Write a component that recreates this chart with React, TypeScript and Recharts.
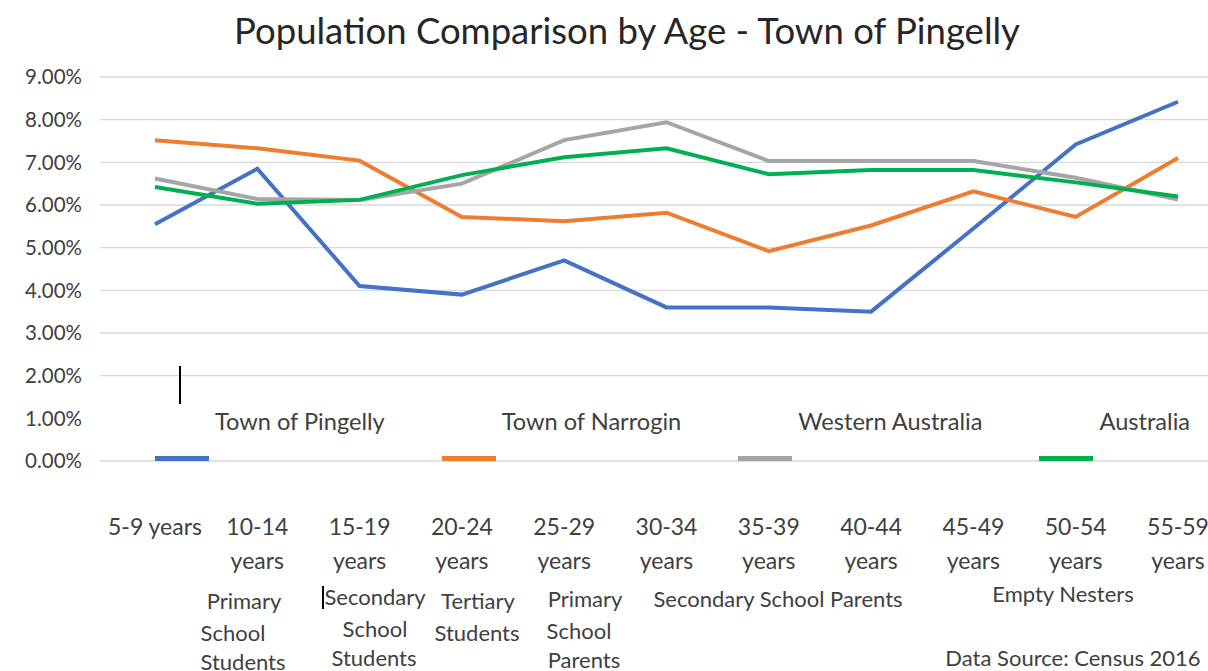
import React from 'react'
import { LineChart, Line, XAxis, YAxis, CartesianGrid, Legend } from 'recharts'

// age groups on the x axis
const ageGroups = [
  '5-9 years',
  '10-14 years',
  '15-19 years',
  '20-24 years',
  '25-29 years',
  '30-34 years',
  '35-39 years',
  '40-44 years',
  '45-49 years',
  '50-54 years',
  '55-59 years',
]

// share of population, in percent
const pingelly = [5.55, 6.85, 4.1, 3.9, 4.7, 3.6, 3.6, 3.5, 5.45, 7.42, 8.42]
const narrogin = [7.52, 7.33, 7.04, 5.72, 5.62, 5.82, 4.92, 5.52, 6.32, 5.72, 7.1]
const westernAustralia = [6.62, 6.14, 6.12, 6.5, 7.52, 7.94, 7.03, 7.03, 7.03, 6.64, 6.13]
const australia = [6.42, 6.03, 6.12, 6.7, 7.12, 7.33, 6.72, 6.82, 6.82, 6.53, 6.2]

const percentTicks = [0, 1, 2, 3, 4, 5, 6, 7, 8, 9]

const series = [
  { key: 'pingelly', name: 'Town of Pingelly', color: '#4472C4' },
  { key: 'narrogin', name: 'Town of Narrogin', color: '#ED7D31' },
  { key: 'wa', name: 'Western Australia', color: '#A5A5A5' },
  { key: 'aus', name: 'Australia', color: '#00B050' },
]

// life stage notes under the axis
const notes = [
  { text: 'Primary', x: 244, y: 601 },
  { text: 'School', x: 233, y: 633 },
  { text: 'Students', x: 243, y: 662 },
  { text: 'Secondary', x: 375, y: 597 },
  { text: 'School', x: 375, y: 629 },
  { text: 'Students', x: 374, y: 658 },
  { text: 'Tertiary', x: 478, y: 601 },
  { text: 'Students', x: 477, y: 633 },
  { text: 'Primary', x: 585, y: 599 },
  { text: 'School', x: 579, y: 631 },
  { text: 'Parents', x: 584, y: 660 },
  { text: 'Secondary School Parents', x: 778, y: 599 },
  { text: 'Empty Nesters', x: 1063, y: 594 },
  { text: 'Data Source: Census 2016', x: 1073, y: 658 },
]

const data = ageGroups.map((age, i) => ({
  age,
  pingelly: pingelly[i],
  narrogin: narrogin[i],
  wa: westernAustralia[i],
  aus: australia[i],
}))

const FONT = 'Lato, "Open Sans", sans-serif'
const TEXT = '#404040'

function AgeTick({ x, y, payload }: any) {
  const label: string = payload.value
  const lines = label.startsWith('5-9') ? [label] : label.split(' ')
  return (
    <text x={x} y={y} textAnchor="middle" fill={TEXT} fontSize={23} fontFamily={FONT}>
      {lines.map((ln, i) => (
        <tspan key={i} x={x} dy={i === 0 ? 74 : 34}>
          {ln}
        </tspan>
      ))}
    </text>
  )
}

function LegendBox({ payload }: any) {
  const order = series.map((s) => s.name)
  const items = [...(payload || [])].sort((a: any, b: any) => order.indexOf(a.value) - order.indexOf(b.value))
  return (
    <div style={{ display: 'flex', gap: 57, paddingLeft: 55, fontFamily: FONT, fontSize: 23.6, color: TEXT }}>
      {items.map((p: any) => (
        <div key={p.value} style={{ position: 'relative', paddingLeft: 60, paddingTop: 15, whiteSpace: 'nowrap', lineHeight: '28px' }}>
          {p.value}
          <div style={{ position: 'absolute', left: 0, top: 64, width: 54, height: 5, background: p.color }} />
        </div>
      ))}
    </div>
  )
}

export default function App() {
  return (
    <div style={{ position: 'absolute', left: 0, top: 0, width: 1208, height: 671, background: '#fff', overflow: 'hidden' }}>
      <div
        style={{
          position: 'absolute',
          left: 227,
          width: 800,
          top: 9,
          textAlign: 'center',
          fontFamily: FONT,
          fontSize: 36.5,
          color: '#262626',
          lineHeight: '42px',
          whiteSpace: 'nowrap',
        }}
      >
        Population Comparison by Age - Town of Pingelly
      </div>
      <LineChart width={1208} height={671} data={data} margin={{ top: 77, right: 0, bottom: 0, left: 0 }}>
        <CartesianGrid vertical={false} stroke="#d9d9d9" strokeWidth={1.3} />
        <XAxis
          dataKey="age"
          height={210}
          padding={{ left: 55, right: 30 }}
          axisLine={false}
          tickLine={false}
          tickSize={0}
          tickMargin={0}
          interval={0}
          tick={<AgeTick />}
        />
        <YAxis
          width={100}
          domain={[0, 9]}
          ticks={percentTicks}
          axisLine={false}
          tickLine={false}
          tickSize={0}
          tickMargin={18}
          tickFormatter={(v: number) => `${v.toFixed(2)}%`}
          tick={{ fill: TEXT, fontSize: 20.5, fontFamily: FONT }}
        />
        <Legend
          layout="horizontal"
          verticalAlign="middle"
          align="center"
          wrapperStyle={{ position: 'absolute', left: 100, top: 392, width: 1108, height: 63, background: '#fff' }}
          content={(props: any) => <LegendBox payload={props.payload} />}
        />
        {series.map((s) => (
          <Line
            key={s.key}
            type="linear"
            dataKey={s.key}
            name={s.name}
            stroke={s.color}
            strokeWidth={4}
            dot={false}
            activeDot={false}
            isAnimationActive={false}
          />
        ))}
      </LineChart>
      {/* stray text cursors from the original screenshot */}
      <div style={{ position: 'absolute', left: 179, top: 366, width: 2, height: 38, background: '#000' }} />
      <div style={{ position: 'absolute', left: 322, top: 586, width: 2, height: 23, background: '#000' }} />
      {notes.map((n, i) => (
        <div
          key={i}
          style={{
            position: 'absolute',
            left: n.x,
            top: n.y,
            transform: 'translate(-50%, -50%)',
            fontFamily: FONT,
            fontSize: 22,
            color: TEXT,
            whiteSpace: 'nowrap',
            lineHeight: 1,
          }}
        >
          {n.text}
        </div>
      ))}
    </div>
  )
}
